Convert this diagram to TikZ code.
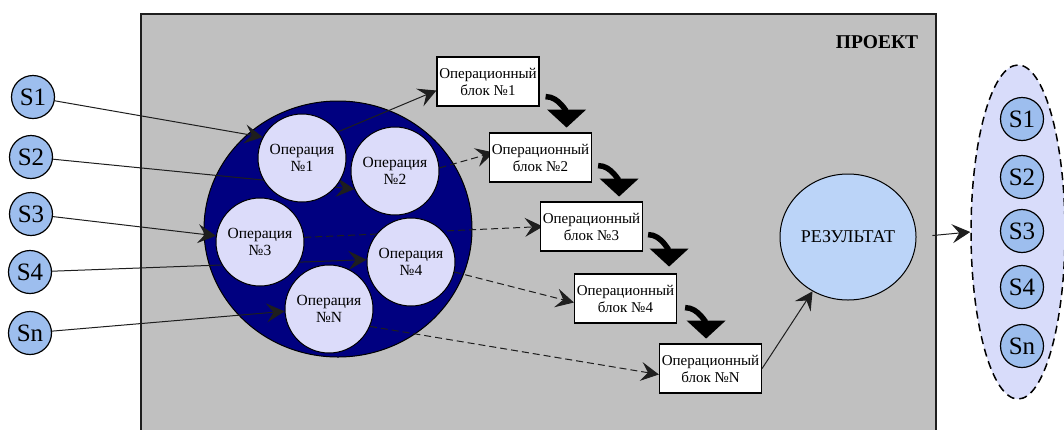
\documentclass[tikz,border=0pt]{standalone}
\usepackage{fontspec}
\setmainfont{Liberation Serif}
\usetikzlibrary{arrows.meta,shapes.geometric,calc}
\pgfdeclarelayer{back}
\pgfdeclarelayer{mid}
\pgfsetlayers{back,mid,main}
\definecolor{projgray}{RGB}{192,192,192}
\definecolor{navyc}{RGB}{0,0,128}
\definecolor{oplav}{RGB}{220,220,250}
\definecolor{sblue}{RGB}{157,190,238}
\definecolor{resblue}{RGB}{187,212,248}
\definecolor{elllav}{RGB}{216,220,250}
\definecolor{darkc}{RGB}{30,30,30}
\begin{document}
\begin{tikzpicture}[x=1pt,y=-1pt,
  scirc/.style={circle, draw=black, line width=1.2pt, fill=sblue, minimum size=43pt, inner sep=0pt, font=\fontsize{25}{25}\selectfont},
  opc/.style={circle, draw=black, line width=1pt, fill=oplav, minimum size=88pt, inner sep=0pt, align=center, font=\fontsize{15.5}{17}\selectfont},
  blk/.style={rectangle, draw=black, line width=1.2pt, fill=white, minimum width=102pt, minimum height=49pt, inner sep=0pt, align=center, font=\fontsize{15}{17}\selectfont},
  conn/.style={draw=darkc, line width=1pt, -{Stealth[length=18pt,width=19pt,inset=7pt]}},
  dconn/.style={conn, dash pattern=on 7pt off 4pt},
  bigarr/.style={draw=black, line width=5.5pt, -{Triangle[length=18pt,width=38pt]}}
]
\useasboundingbox (0,0) rectangle (1064,429);

% project area
\begin{pgfonlayer}{back}
  \fill[projgray] (141,14) rectangle (936,432);
  \draw[line width=1.5pt, draw=darkc] (141,432) -- (141,14) -- (936,14) -- (936,432);
  \node[ellipse, draw=black, line width=1pt, fill=navyc, minimum width=268pt, minimum height=256pt, inner sep=0pt] (big) at (338,229) {};
\end{pgfonlayer}
\node[font=\fontsize{19.5}{19.5}\selectfont\bfseries] (proj) at (877,42) {ПРОЕКТ};

% left stakeholders
\node[scirc] (sl1) at (33,97) {S1};
\node[scirc] (sl2) at (31,157) {S2};
\node[scirc] (sl3) at (31,214) {S3};
\node[scirc] (sl4) at (30,272) {S4};
\node[scirc] (sl5) at (30,333) {Sn};

% operations
\node[opc] (op1) at (302,158) {Операция\\№1};
\node[opc] (op2) at (395,171) {Операция\\№2};
\node[opc] (op3) at (260,242) {Операция\\№3};
\node[opc] (op4) at (411,262) {Операция\\№4};
\node[opc] (opn) at (329,309) {Операция\\№N};

% blocks
\node[blk] (b1) at (488,81.5) {Операционный\\блок №1};
\node[blk] (b2) at (540.5,157.5) {Операционный\\блок №2};
\node[blk] (b3) at (591.5,226.5) {Операционный\\блок №3};
\node[blk] (b4) at (625.5,298.5) {Операционный\\блок №4};
\node[blk] (bn) at (710.5,368.5) {Операционный\\блок №N};

% result
\node[ellipse, draw=black, line width=1pt, fill=resblue, minimum width=136pt, minimum height=126pt, inner sep=0pt, font=\fontsize{18}{18}\selectfont] (res) at (848,237) {РЕЗУЛЬТАТ};

% output ellipse
\node[ellipse, draw=black, line width=1.5pt, dash pattern=on 8pt off 5pt, fill=elllav, minimum width=94pt, minimum height=334pt, inner sep=0pt] (out) at (1018,232) {};
\node[scirc] (sr1) at (1022,119) {S1};
\node[scirc] (sr2) at (1022,177) {S2};
\node[scirc] (sr3) at (1022,231) {S3};
\node[scirc] (sr4) at (1022,287) {S4};
\node[scirc] (sr5) at (1022,346) {Sn};

% connectors (under nodes)
\begin{pgfonlayer}{mid}
  \draw[conn] (sl1) -- (op1.152);
  \draw[conn] (sl2) -- (op2.204);
  \draw[conn] (sl3) -- (op3.172);
  \draw[conn] (sl4) -- (op4.177);
  \draw[conn] (sl5) -- (opn.183);
  \draw[conn] (op1.36) -- ([yshift=-9pt]b1.west);
  \draw[dconn] (op2.4) -- ([yshift=5pt,xshift=5pt]b2.west);
  \draw[dconn] (op3.6) -- ([xshift=3pt]b3.west);
  \draw[dconn] (op4.-13) -- ([yshift=-4pt]b4.west);
  \draw[dconn] (opn.-23) -- ([yshift=-6pt]bn.west);
\end{pgfonlayer}

% block-to-block curved arrows
\coordinate (c1) at ($(b1.south east)+(6,-10)$);
\coordinate (c2) at ($(b2.south east)+(6,-17)$);
\coordinate (c3) at ($(b3.south east)+(5,-17)$);
\coordinate (c4) at ($(b4.south east)+(8,-16)$);
\draw[bigarr] (c1) .. controls +(14,0) and +(0,-14) .. ($(c1)+(21,31)$);
\draw[bigarr] (c2) .. controls +(14,0) and +(0,-14) .. ($(c2)+(21,31)$);
\draw[bigarr] (c3) .. controls +(14,0) and +(0,-14) .. ($(c3)+(21,32)$);
\draw[bigarr] (c4) .. controls +(14,0) and +(0,-14) .. ($(c4)+(21,31)$);

% result arrows
\draw[conn] (bn.east) -- (res);
\draw[conn, shorten <=16pt] (res.east) -- (out.west);
\end{tikzpicture}
\end{document}
